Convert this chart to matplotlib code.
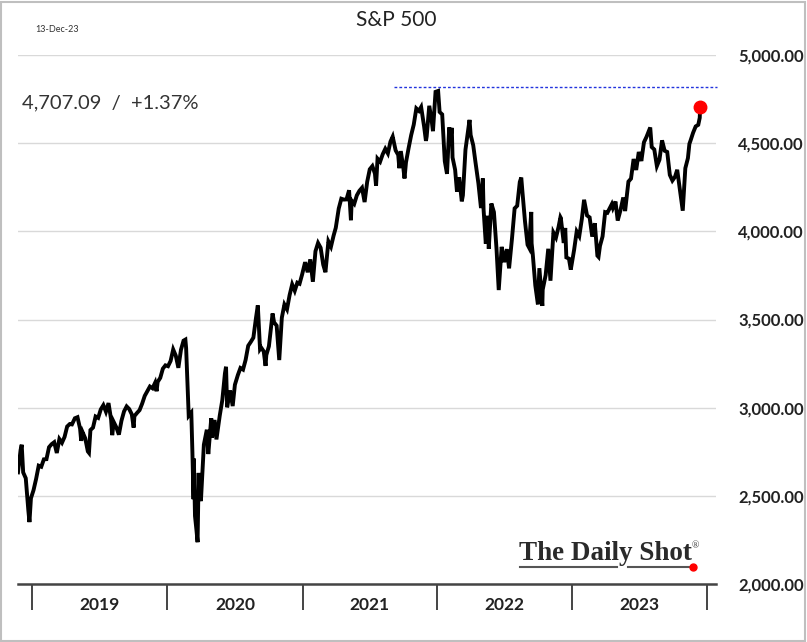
import numpy as np
import pandas as pd
import matplotlib
matplotlib.use('Agg')
import matplotlib.pyplot as plt
import matplotlib.dates as mdates
from matplotlib.patches import Rectangle
from matplotlib.lines import Line2D

# S&P 500 closes (approximate)
dates = ['2018-11-23','2018-11-30','2018-12-03','2018-12-07','2018-12-14','2018-12-21','2018-12-24','2018-12-28',
         '2019-01-04','2019-01-11','2019-01-18','2019-01-25','2019-02-01','2019-02-08','2019-02-15','2019-02-22',
         '2019-03-01','2019-03-08','2019-03-15','2019-03-22','2019-03-29','2019-04-05','2019-04-12','2019-04-18',
         '2019-04-26','2019-05-03','2019-05-10','2019-05-13','2019-05-17','2019-05-24','2019-05-31','2019-06-03',
         '2019-06-07','2019-06-14','2019-06-21','2019-06-28','2019-07-05','2019-07-12','2019-07-19','2019-07-26',
         '2019-08-02','2019-08-05','2019-08-09','2019-08-16','2019-08-23','2019-08-30','2019-09-06','2019-09-13',
         '2019-09-20','2019-09-27','2019-10-02','2019-10-04','2019-10-11','2019-10-18','2019-10-25','2019-11-01',
         '2019-11-08','2019-11-15','2019-11-22','2019-11-29','2019-12-03','2019-12-06','2019-12-13','2019-12-20',
         '2019-12-27',
         '2020-01-03','2020-01-10','2020-01-17','2020-01-24','2020-01-31','2020-02-07','2020-02-14','2020-02-19',
         '2020-02-21','2020-02-28','2020-03-06','2020-03-09','2020-03-12','2020-03-13','2020-03-16','2020-03-20',
         '2020-03-23','2020-03-26','2020-03-27','2020-04-01','2020-04-09','2020-04-17','2020-04-21','2020-04-29',
         '2020-05-01','2020-05-08','2020-05-13','2020-05-22','2020-05-29','2020-06-05','2020-06-08','2020-06-11',
         '2020-06-19','2020-06-26','2020-07-02','2020-07-10','2020-07-17','2020-07-24','2020-07-31','2020-08-07',
         '2020-08-14','2020-08-21','2020-08-28','2020-09-02','2020-09-08','2020-09-11','2020-09-18','2020-09-23',
         '2020-09-25','2020-10-02','2020-10-09','2020-10-12','2020-10-16','2020-10-23','2020-10-30','2020-11-06',
         '2020-11-13','2020-11-20','2020-11-27','2020-12-04','2020-12-11','2020-12-18','2020-12-24','2020-12-31',
         '2021-01-08','2021-01-15','2021-01-22','2021-01-29','2021-02-05','2021-02-12','2021-02-19','2021-02-26',
         '2021-03-04','2021-03-12','2021-03-19','2021-03-26','2021-04-01','2021-04-09','2021-04-16','2021-04-23',
         '2021-04-30','2021-05-07','2021-05-12','2021-05-14','2021-05-21','2021-05-28','2021-06-04','2021-06-11',
         '2021-06-18','2021-06-25','2021-07-02','2021-07-09','2021-07-16','2021-07-19','2021-07-23','2021-07-30',
         '2021-08-06','2021-08-13','2021-08-20','2021-08-27','2021-09-02','2021-09-10','2021-09-17','2021-09-20',
         '2021-09-24','2021-10-01','2021-10-04','2021-10-08','2021-10-15','2021-10-22','2021-10-29','2021-11-05',
         '2021-11-12','2021-11-18','2021-11-26','2021-12-01','2021-12-03','2021-12-10','2021-12-17','2021-12-20',
         '2021-12-27',
         '2022-01-03','2022-01-07','2022-01-14','2022-01-21','2022-01-27','2022-02-02','2022-02-04','2022-02-09',
         '2022-02-11','2022-02-18','2022-02-23','2022-03-01','2022-03-08','2022-03-11','2022-03-18','2022-03-29',
         '2022-04-01','2022-04-08','2022-04-14','2022-04-22','2022-04-29','2022-05-04','2022-05-06','2022-05-12',
         '2022-05-17','2022-05-20','2022-05-27','2022-06-03','2022-06-10','2022-06-16','2022-06-24','2022-07-01',
         '2022-07-08','2022-07-14','2022-07-22','2022-07-29','2022-08-05','2022-08-12','2022-08-16','2022-08-19',
         '2022-08-26','2022-09-02','2022-09-06','2022-09-12','2022-09-13','2022-09-16','2022-09-23','2022-09-30',
         '2022-10-04','2022-10-12','2022-10-13','2022-10-21','2022-10-28','2022-11-03','2022-11-11','2022-11-18',
         '2022-11-25','2022-11-30','2022-12-01','2022-12-09','2022-12-13','2022-12-16','2022-12-23','2022-12-28',
         '2023-01-06','2023-01-13','2023-01-20','2023-01-27','2023-02-02','2023-02-10','2023-02-17','2023-02-24',
         '2023-03-03','2023-03-10','2023-03-13','2023-03-17','2023-03-24','2023-03-31','2023-04-06','2023-04-14',
         '2023-04-18','2023-04-21','2023-04-28','2023-05-04','2023-05-12','2023-05-19','2023-05-24','2023-06-02',
         '2023-06-09','2023-06-16','2023-06-23','2023-06-30','2023-07-07','2023-07-14','2023-07-21','2023-07-31',
         '2023-08-04','2023-08-11','2023-08-18','2023-08-25','2023-09-01','2023-09-08','2023-09-15','2023-09-22',
         '2023-09-29','2023-10-06','2023-10-12','2023-10-20','2023-10-27','2023-11-03','2023-11-10','2023-11-14',
         '2023-11-17','2023-11-24','2023-12-01','2023-12-08','2023-12-12','2023-12-13']
values = [2633,2760,2790,2633,2600,2417,2351,2486,
          2532,2596,2671,2665,2707,2708,2776,2793,
          2804,2743,2822,2801,2834,2893,2907,2905,
          2940,2946,2881,2812,2860,2826,2752,2744,
          2873,2887,2950,2942,2990,3014,2977,3026,
          2932,2844,2919,2889,2847,2926,2979,3007,
          2992,2962,2887,2952,2970,2986,3023,3067,
          3093,3120,3110,3141,3093,3146,3169,3221,
          3240,
          3235,3265,3330,3295,3226,3328,3380,3386,
          3338,2954,2972,2747,2481,2711,2386,2305,
          2237,2630,2541,2470,2790,2875,2737,2940,
          2831,2930,2820,2955,3044,3194,3232,3002,
          3098,3009,3130,3185,3225,3216,3271,3351,
          3373,3397,3508,3580,3332,3341,3319,3237,
          3298,3348,3477,3534,3484,3465,3270,3510,
          3585,3558,3638,3699,3663,3709,3703,3756,
          3825,3768,3841,3714,3887,3934,3907,3811,
          3768,3943,3913,3975,4020,4129,4185,4180,
          4181,4233,4063,4174,4156,4204,4230,4247,
          4166,4281,4352,4370,4327,4258,4412,4395,
          4437,4468,4442,4509,4537,4459,4433,4358,
          4455,4357,4300,4391,4471,4545,4605,4697,
          4683,4705,4595,4513,4538,4712,4620,4568,
          4791,
          4796,4677,4663,4398,4326,4589,4500,4587,
          4419,4349,4225,4306,4170,4204,4463,4632,
          4546,4488,4393,4272,4132,4300,4123,3930,
          4088,3901,4158,4109,3901,3667,3912,3825,
          3899,3790,3962,4130,4145,4280,4305,4228,
          4058,3924,3908,4110,3932,3873,3693,3586,
          3791,3577,3669,3752,3901,3720,3993,3965,
          4026,4080,4076,3934,4019,3852,3845,3783,
          3895,3999,3973,4071,4179,4090,4079,3970,
          4046,3862,3855,3917,3971,4109,4105,4138,
          4154,4133,4169,4061,4124,4192,4115,4282,
          4299,4410,4348,4450,4399,4505,4536,4589,
          4478,4464,4370,4406,4516,4457,4450,4320,
          4288,4309,4349,4224,4117,4358,4415,4496,
          4514,4559,4595,4604,4644,4707.09]
ath_level = 4818.62
ath_span = ['2021-09-06','2024-01-27']
years = [2019,2020,2021,2022,2023]
yticks = [2000,2500,3000,3500,4000,4500,5000]

x = pd.to_datetime(dates)
W,H = 807,642
fig = plt.figure(figsize=(W/100,H/100),dpi=100,facecolor='w')
ax = fig.add_axes([18/W,1-584/H,(716-18)/W,(584-55)/H])

ax.plot(x,values,color='k',lw=2.8,solid_joinstyle='miter',zorder=3)
ax.plot(x[-1:],values[-1:],'o',color='#ff0000',ms=9,zorder=4)
ax.plot(pd.to_datetime(ath_span),[ath_level,ath_level],color='#2233dd',lw=1,ls=(0,(2,1.5)),zorder=2,clip_on=False)

ax.set_xlim(pd.Timestamp('2018-11-23'),pd.Timestamp('2024-01-25'))
ax.set_ylim(2000,5000)
ax.set_yticks(yticks)
ax.yaxis.tick_right()
ax.set_yticklabels(['{:,.2f}'.format(v) for v in yticks],fontfamily='Lato',fontweight='bold',fontsize=12,color='#222222')
ax.tick_params(axis='y',length=0,pad=16)
ax.grid(axis='y',color='#d9d9d9',lw=1)
ax.set_axisbelow(True)

ax.set_xticks([pd.Timestamp('{}-01-01'.format(y)) for y in years+[2024]])
ax.set_xticklabels([])
ax.set_xticks([pd.Timestamp('{}-07-02'.format(y)) for y in years],minor=True)
ax.set_xticklabels([str(y) for y in years],minor=True,fontfamily='Lato',fontweight='bold',fontsize=12.5,color='#222222')
ax.tick_params(axis='x',which='major',direction='out',length=19,width=1.4,color='#444444')
ax.tick_params(axis='x',which='minor',length=0,pad=9)

for s in ['top','left','right']:
    ax.spines[s].set_visible(False)
ax.spines['bottom'].set_color('#444444')
ax.spines['bottom'].set_linewidth(1.8)

fig.text(396/W,1-20/H,'S&P 500',ha='center',va='center',fontfamily='Lato',fontsize=15,color='#222222')
fig.text(35/W,1-29/H,'13-Dec-23',ha='left',va='center',fontfamily='Lato',fontsize=6.5,color='#333333')
fig.text(22/W,1-103/H,'4,707.09  /  +1.37%',ha='left',va='center',fontfamily='Lato',fontsize=14.5,color='#333333')

# watermark
fig.text(519/W,1-553/H,'The Daily Shot',ha='left',va='center',fontfamily='Liberation Serif',fontweight='bold',fontsize=19.5,color='#2a2a2a')
fig.text(692/W,1-546/H,'®',ha='left',va='center',fontfamily='Liberation Serif',fontsize=7,color='#333333')
fig.add_artist(Line2D([520/W,617/W],[1-567/H,1-567/H],color='#555555',lw=1.5))
fig.add_artist(Line2D([628/W,691/W],[1-567/H,1-567/H],color='#555555',lw=1.5))
fig.add_artist(Line2D([693/W],[1-567/H],marker='o',color='#ff0000',ms=5))

fig.add_artist(Rectangle((1/W,1/H),(W-3)/W,(H-3)/H,fill=False,ec='#bfbfbf',lw=1.5))

fig.savefig('out.png',dpi=100,facecolor='w')
